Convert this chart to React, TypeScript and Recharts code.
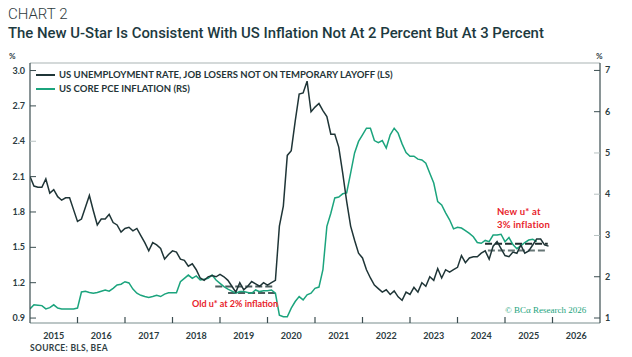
import React from 'react';
import { ComposedChart, Line, XAxis, YAxis, ReferenceLine } from 'recharts';

// monthly values, Jan 2015 onwards
const unemploymentLS = [
  2.10, 2.02, 2.01, 2.01, 2.08, 1.96, 1.99, 1.93, 1.90, 1.92, 1.92, 1.82,
  1.72, 1.74, 1.84, 1.94, 1.81, 1.69, 1.74, 1.74, 1.78, 1.71, 1.69, 1.63,
  1.66, 1.67, 1.64, 1.66, 1.60, 1.54, 1.47, 1.54, 1.52, 1.49, 1.40, 1.44,
  1.47, 1.46, 1.40, 1.39, 1.34, 1.36, 1.31, 1.24, 1.22, 1.25, 1.26, 1.25,
  1.27, 1.25, 1.22, 1.17, 1.12, 1.20, 1.14, 1.17, 1.21, 1.19, 1.17, 1.20,
  1.18, 1.20, 1.22, 1.68, 1.85, 2.28, 2.32, 2.57, 2.80, 2.81, 2.91, 2.65,
  2.69, 2.72, 2.66, 2.61, 2.46, 2.46, 2.35, 2.13, 1.89, 1.68, 1.56, 1.45,
  1.41, 1.31, 1.24, 1.18, 1.15, 1.12, 1.14, 1.10, 1.13, 1.08, 1.05, 1.12,
  1.10, 1.16, 1.12, 1.20, 1.17, 1.25, 1.22, 1.32, 1.24, 1.31, 1.29, 1.31,
  1.33, 1.43, 1.37, 1.41, 1.42, 1.42, 1.45, 1.47, 1.40, 1.51, 1.55, 1.49,
  1.43, 1.42, 1.46, 1.45, 1.52, 1.45, 1.47, 1.52, 1.57, 1.57, 1.52, 1.51,
];

const corePceRS = [
  1.22, 1.32, 1.31, 1.30, 1.22, 1.25, 1.32, 1.24, 1.22, 1.22, 1.22, 1.22,
  1.24, 1.63, 1.65, 1.62, 1.60, 1.62, 1.65, 1.68, 1.65, 1.72, 1.80, 1.82,
  1.88, 1.85, 1.70, 1.60, 1.55, 1.52, 1.50, 1.52, 1.55, 1.52, 1.58, 1.61,
  1.61, 1.61, 1.88, 1.96, 2.04, 1.96, 2.02, 1.92, 1.94, 1.96, 2.04, 1.92,
  1.84, 1.76, 1.70, 1.65, 1.60, 1.64, 1.64, 1.62, 1.60, 1.68, 1.64, 1.66,
  1.66, 1.68, 1.60, 1.07, 1.03, 1.03, 1.24, 1.40, 1.52, 1.44, 1.56, 1.60,
  1.72, 1.75, 2.17, 3.22, 3.54, 3.91, 3.93, 4.01, 4.03, 4.51, 5.00, 5.28,
  5.44, 5.60, 5.60, 5.30, 5.25, 5.30, 5.12, 5.44, 5.60, 5.48, 5.22, 5.01,
  4.92, 4.92, 4.85, 4.83, 4.75, 4.51, 4.27, 3.82, 3.74, 3.55, 3.38, 3.16,
  3.20, 3.18, 3.12, 3.05, 2.97, 2.83, 2.81, 2.88, 2.85, 3.01, 3.01, 3.03,
  2.85, 2.95, 2.78, 2.68, 2.75, 2.83, 2.89, 2.91, 2.85,
];

const yearLabels = [2015, 2016, 2017, 2018, 2019, 2020, 2021, 2022, 2023, 2024, 2025, 2026];
const leftTicks = [0.9, 1.2, 1.5, 1.8, 2.1, 2.4, 2.7, 3.0];
const rightTicks = [1, 2, 3, 4, 5, 6, 7];

// u* dashed segments: [from, to, level on left scale]
const oldUStarUpper = [2018.9, 2020.16, 1.167];
const oldUStarLower = [2019.17, 2020.16, 1.113];
const newUStarUpper = [2024.58, 2025.9, 1.53];
const newUStarLower = [2024.64, 2025.9, 1.474];

const data = unemploymentLS.map((u, i) => ({
  x: 2015 + i / 12,
  u,
  p: i < corePceRS.length ? corePceRS[i] : null,
}));

const X_MIN = 2015;
const X_MAX = 2027;
const LEFT_DOMAIN = [0.858, 3.064];
const RIGHT_DOMAIN = [0.879, 7.18];
const PLOT_W = 570;
const HALF_YEAR = PLOT_W / (X_MAX - X_MIN) / 2;

const DARK = '#1f3537';
const GREEN = '#1ba47d';
const AXIS = '#3b4d50';
const LABEL = '#2c3c3f';
const RED = '#e8232b';

const tickFont = { fontFamily: 'Lato, sans-serif', fontSize: 9, fontWeight: 700, fill: LABEL };

const LeftTick = (props: any) => {
  const { x, y, payload } = props;
  return (
    <g>
      <line x1={x} x2={x + 6} y1={y} y2={y} stroke={payload.value === 2.4 ? '#b8c2c2' : AXIS} strokeWidth={1} />
      <text x={x - 5} y={y + 3} textAnchor="end" {...tickFont}>{payload.value.toFixed(1)}</text>
    </g>
  );
};

const RightTick = (props: any) => {
  const { x, y, payload } = props;
  const light = payload.value >= 3 && payload.value <= 5;
  return (
    <g>
      <line x1={x - 6} x2={x} y1={y} y2={y} stroke={light ? '#b8c2c2' : AXIS} strokeWidth={1} />
      <text x={x + 5} y={y + 3} textAnchor="start" {...tickFont}>{payload.value}</text>
    </g>
  );
};

const BottomTick = (props: any) => {
  const { x, y, payload } = props;
  const year = Math.floor(payload.value);
  return (
    <g>
      {year > X_MIN && (
        <line x1={x - HALF_YEAR} x2={x - HALF_YEAR} y1={y - 6} y2={y} stroke={AXIS} strokeWidth={1.2} />
      )}
      <text x={x} y={y + 16} textAnchor="middle" {...tickFont}>{year}</text>
    </g>
  );
};

const Dashed = ({ seg, color }: { seg: number[]; color: string }) => (
  <ReferenceLine
    yAxisId="left"
    xAxisId="x"
    segment={[{ x: seg[0], y: seg[2] }, { x: seg[1], y: seg[2] }]}
    stroke={color}
    strokeWidth={2}
    strokeDasharray="7 3"
  />
);

export default function App() {
  return (
    <div style={{ position: 'absolute', left: 0, top: 0, width: 632, height: 357, background: '#fff', overflow: 'hidden' }}>
      <div style={{ position: 'absolute', left: 8, top: 5, fontFamily: 'Roboto, sans-serif', fontWeight: 300, fontSize: 15, color: '#2e3b3e' }}>
        CHART 2
      </div>
      <div style={{ position: 'absolute', left: 8, top: 24, fontFamily: 'Roboto, sans-serif', fontWeight: 500, fontSize: 14.9, color: '#1d3a3f', whiteSpace: 'nowrap' }}>
        The New U-Star Is Consistent With US Inflation Not At 2 Percent But At 3 Percent
      </div>
      <div style={{ position: 'absolute', left: 9, top: 51, fontFamily: 'Lato, sans-serif', fontWeight: 700, fontSize: 8, color: LABEL }}>%</div>
      <div style={{ position: 'absolute', left: 596, top: 51, fontFamily: 'Lato, sans-serif', fontWeight: 700, fontSize: 8, color: LABEL }}>%</div>

      <ComposedChart width={632} height={357} data={data} margin={{ top: 63, right: 0, bottom: 0, left: 0 }} style={{ position: 'absolute', left: 0, top: 0 }}>
        <XAxis
          xAxisId="x"
          dataKey="x"
          type="number"
          domain={[X_MIN, X_MAX]}
          ticks={yearLabels.map((y) => y + 0.5)}
          allowDataOverflow
          height={34}
          tickSize={0}
          tickMargin={0}
          tickLine={false}
          axisLine={{ stroke: '#bcc6c6', strokeWidth: 2 }}
          tick={<BottomTick />}
          interval={0}
        />
        <YAxis
          yAxisId="left"
          orientation="left"
          width={30}
          domain={LEFT_DOMAIN}
          ticks={leftTicks}
          allowDataOverflow
          tickSize={0}
          tickMargin={0}
          tickLine={false}
          axisLine={{ stroke: AXIS, strokeWidth: 1.2 }}
          tick={<LeftTick />}
          interval={0}
        />
        <YAxis
          yAxisId="right"
          orientation="right"
          width={32}
          domain={RIGHT_DOMAIN}
          ticks={rightTicks}
          allowDataOverflow
          tickSize={0}
          tickMargin={0}
          tickLine={false}
          axisLine={{ stroke: AXIS, strokeWidth: 1.2 }}
          tick={<RightTick />}
          interval={0}
        />
        <ReferenceLine yAxisId="left" xAxisId="x" y={LEFT_DOMAIN[1]} stroke="#c6cdcd" strokeWidth={1.5} />
        <Dashed seg={oldUStarUpper} color="#4a5c5c" />
        <Dashed seg={oldUStarLower} color="#4a5c5c" />
        <Dashed seg={newUStarLower} color="#667676" />
        <Dashed seg={newUStarUpper} color="#1f2c2c" />
        <Line xAxisId="x" yAxisId="right" dataKey="p" stroke={GREEN} strokeWidth={1.5} dot={false} isAnimationActive={false} />
        <Line xAxisId="x" yAxisId="left" dataKey="u" stroke={DARK} strokeWidth={1.5} dot={false} isAnimationActive={false} />
      </ComposedChart>

      <div style={{ position: 'absolute', left: 36, top: 68, fontFamily: 'Lato, sans-serif', fontSize: 9.5, fontWeight: 700, color: '#253538', lineHeight: '14px' }}>
        <div style={{ display: 'flex', alignItems: 'center' }}>
          <span style={{ display: 'inline-block', width: 19, height: 2, background: DARK, marginRight: 4 }} />
          US UNEMPLOYMENT RATE, JOB LOSERS NOT ON TEMPORARY LAYOFF (LS)
        </div>
        <div style={{ display: 'flex', alignItems: 'center' }}>
          <span style={{ display: 'inline-block', width: 19, height: 2, background: GREEN, marginRight: 4 }} />
          US CORE PCE INFLATION (RS)
        </div>
      </div>

      <div style={{ position: 'absolute', left: 192, top: 298, fontFamily: 'Lato, sans-serif', fontSize: 9, fontWeight: 700, color: RED, whiteSpace: 'nowrap' }}>
        Old u* at 2% inflation
      </div>
      <div style={{ position: 'absolute', left: 497, top: 205, fontFamily: 'Lato, sans-serif', fontSize: 9.5, fontWeight: 700, color: RED, lineHeight: '13px', whiteSpace: 'nowrap', letterSpacing: 0.2 }}>
        <div>New u* at</div>
        <div>3% inflation</div>
      </div>
      <div style={{ position: 'absolute', left: 505, top: 305, fontFamily: '"Liberation Serif", serif', fontSize: 9, color: GREEN, whiteSpace: 'nowrap' }}>
        © BCα Research 2026
      </div>
      <div style={{ position: 'absolute', left: 30, top: 343, fontFamily: 'Lato, sans-serif', fontSize: 8.5, fontWeight: 700, color: '#2f3e42', letterSpacing: 0.3 }}>
        SOURCE: BLS, BEA
      </div>
    </div>
  );
}
